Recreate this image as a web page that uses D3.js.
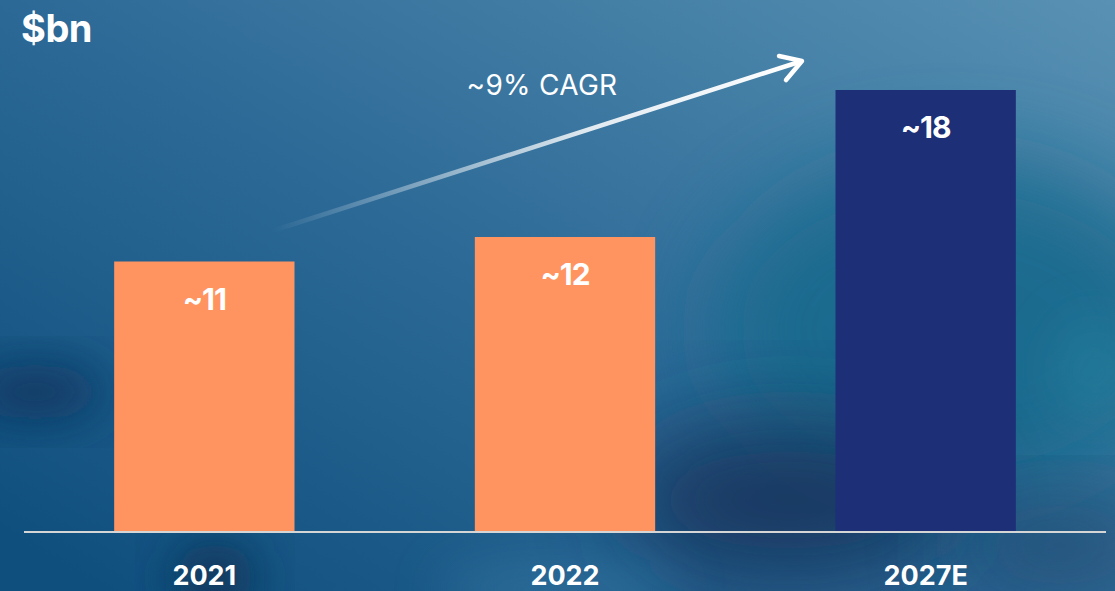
<!DOCTYPE html>
<html>
<head>
<meta charset="utf-8">
<script src="https://cdn.jsdelivr.net/npm/d3@7"></script>
<style>
  html, body { margin: 0; padding: 0; background: #1d5d8c; }
  svg { display: block; }
  text { font-family: Inter, "Noto Sans", sans-serif; fill: #fff; }
</style>
</head>
<body>
<svg id="chart" width="1115" height="591"></svg>
<script>
// chart data
const years = ['2021', '2022', '2027E'];
const values = [11, 12, 18];
const valueLabels = ['~11', '~12', '~18'];
const barColors = ['#ff9461', '#ff9461', '#1d2f77'];
const unitLabel = '$bn';
const cagrLabel = '~9% CAGR';

const W = 1115, H = 591;
const svg = d3.select('#chart');
const defs = svg.append('defs');

// background
let bg = defs.append('linearGradient').attr('id', 'bgGrad')
    .attr('x1', '0').attr('y1', '0.9').attr('x2', '1').attr('y2', '0');
bg.append('stop').attr('offset', '0%').attr('stop-color', '#0f4f7e');
bg.append('stop').attr('offset', '45%').attr('stop-color', '#2c6996');
bg.append('stop').attr('offset', '100%').attr('stop-color', '#5891b3');

defs.append('filter').attr('id', 'blur45')
    .attr('x', '-50%').attr('y', '-50%').attr('width', '200%').attr('height', '200%')
    .append('feGaussianBlur').attr('stdDeviation', 45);
defs.append('filter').attr('id', 'blur25')
    .attr('x', '-50%').attr('y', '-50%').attr('width', '200%').attr('height', '200%')
    .append('feGaussianBlur').attr('stdDeviation', 25);

svg.append('rect').attr('width', W).attr('height', H).attr('fill', 'url(#bgGrad)');

let blobs = [
    {cx: 950, cy: 330, rx: 240, ry: 170, c: '#17698c', o: 0.85, f: 'blur45'},
    {cx: 1095, cy: 370, rx: 40, ry: 50, c: '#2585a0', o: 0.5, f: 'blur25'},
    {cx: 790, cy: 500, rx: 170, ry: 80, c: '#15325a', o: 0.85, f: 'blur45'},
    {cx: 1060, cy: 545, rx: 110, ry: 45, c: '#1b3f66', o: 0.7, f: 'blur45'},
    {cx: 35, cy: 392, rx: 70, ry: 28, c: '#08325c', o: 0.85, f: 'blur25'},
    {cx: 215, cy: 578, rx: 40, ry: 35, c: '#0d2d50', o: 0.85, f: 'blur25'},
    {cx: 560, cy: 590, rx: 120, ry: 30, c: '#3a7aa6', o: 0.5, f: 'blur25'}
];
svg.append('g').selectAll('ellipse').data(blobs).join('ellipse')
    .attr('cx', d => d.cx).attr('cy', d => d.cy)
    .attr('rx', d => d.rx).attr('ry', d => d.ry)
    .attr('fill', d => d.c).attr('opacity', d => d.o)
    .attr('filter', d => 'url(#' + d.f + ')');

// scales
let x = d3.scaleBand().domain(years).range([24, 1106]).paddingInner(0.5).paddingOuter(0.25);
let y = d3.scaleLinear().domain([0, 18]).range([531, 90]);

// bars
let g = svg.append('g');
g.selectAll('rect.bar').data(years).join('rect')
    .attr('class', 'bar')
    .attr('x', d => x(d))
    .attr('width', x.bandwidth())
    .attr('y', (d, i) => y(values[i]))
    .attr('height', (d, i) => y(0) - y(values[i]))
    .attr('fill', (d, i) => barColors[i]);

g.selectAll('text.val').data(years).join('text')
    .attr('class', 'val')
    .attr('x', d => x(d) + x.bandwidth() / 2)
    .attr('y', (d, i) => y(values[i]) + 48)
    .attr('text-anchor', 'middle')
    .attr('font-size', 30)
    .attr('font-weight', 700)
    .attr('letter-spacing', -1)
    .text((d, i) => valueLabels[i]);

// baseline + year labels
svg.append('line')
    .attr('x1', 24).attr('x2', 1106)
    .attr('y1', y(0) + 1).attr('y2', y(0) + 1)
    .attr('stroke', '#d6d6d6').attr('stroke-width', 2);

let xAxis = svg.append('g')
    .attr('transform', 'translate(0,' + (y(0) + 1) + ')')
    .call(d3.axisBottom(x).tickSize(0).tickPadding(0));
xAxis.select('.domain').remove();
xAxis.selectAll('text')
    .attr('y', 53)
    .attr('dy', null)
    .attr('fill', '#fff')
    .attr('font-size', 27)
    .attr('font-weight', 700)
    .attr('font-family', 'Inter, "Noto Sans", sans-serif');

// unit
svg.append('text')
    .attr('x', 21).attr('y', 42)
    .attr('font-size', 38)
    .attr('font-weight', 700)
    .attr('letter-spacing', -0.5)
    .text(unitLabel);

// CAGR arrow
let a0 = [272, 231], a1 = [802, 61];
let ag = defs.append('linearGradient').attr('id', 'arrowGrad')
    .attr('gradientUnits', 'userSpaceOnUse')
    .attr('x1', a0[0]).attr('y1', a0[1]).attr('x2', a1[0]).attr('y2', a1[1]);
ag.append('stop').attr('offset', '0%').attr('stop-color', '#fff').attr('stop-opacity', 0);
ag.append('stop').attr('offset', '60%').attr('stop-color', '#fff').attr('stop-opacity', 0.85);
ag.append('stop').attr('offset', '100%').attr('stop-color', '#fff').attr('stop-opacity', 1);

svg.append('line')
    .attr('x1', a0[0]).attr('y1', a0[1]).attr('x2', a1[0] - 3).attr('y2', a1[1] + 1)
    .attr('stroke', 'url(#arrowGrad)').attr('stroke-width', 4.5).attr('stroke-linecap', 'round');
svg.append('path')
    .attr('d', d3.line()([[779, 56], a1, [786, 80]]))
    .attr('fill', 'none').attr('stroke', '#fff')
    .attr('stroke-width', 4.5).attr('stroke-linecap', 'round').attr('stroke-linejoin', 'round');

svg.append('text')
    .attr('x', 542).attr('y', 95)
    .attr('text-anchor', 'middle')
    .attr('font-size', 28)
    .attr('font-weight', 400)
    .attr('letter-spacing', 0.3)
    .text(cagrLabel);
</script>
</body>
</html>
